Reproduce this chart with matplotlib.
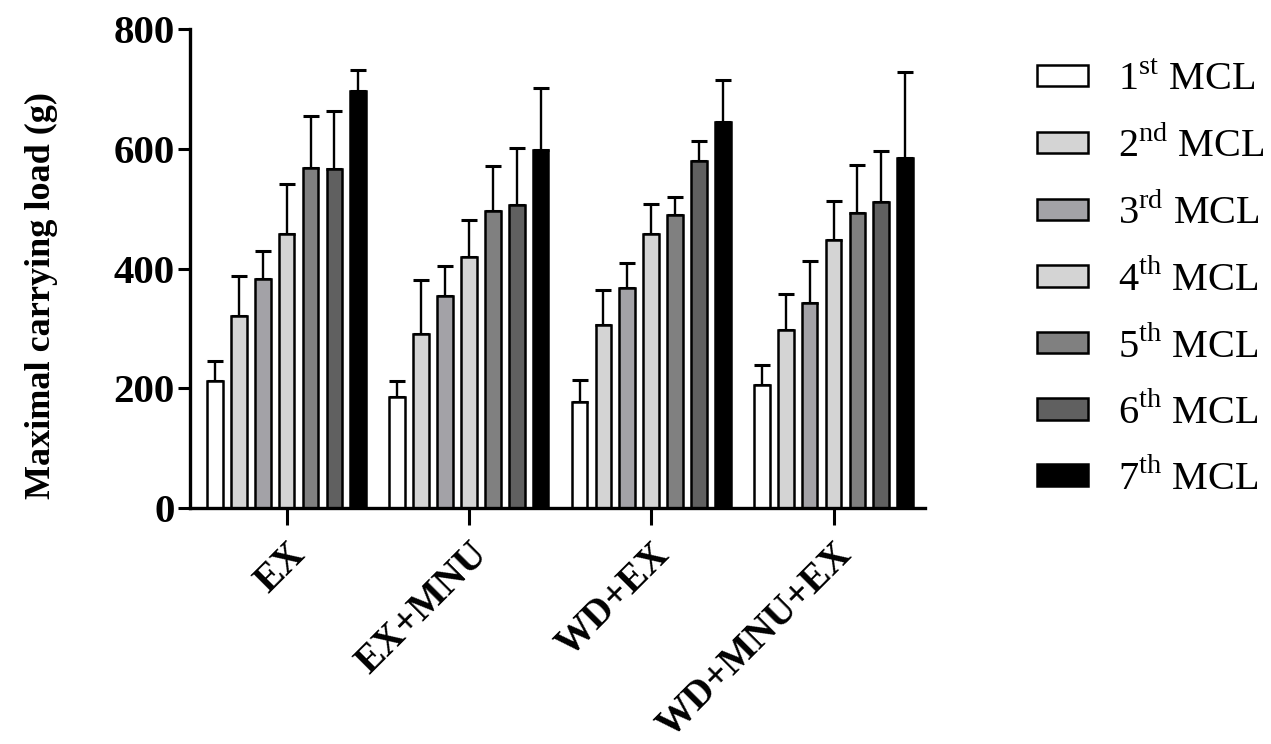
import numpy as np
import matplotlib.pyplot as plt

plt.rcParams['font.family'] = 'Liberation Serif'
plt.rcParams['mathtext.fontset'] = 'custom'
plt.rcParams['mathtext.rm'] = 'Liberation Serif'

groups = ['EX', 'EX+MNU', 'WD+EX', 'WD+MNU+EX']
series = ['1$^{\\mathrm{st}}$ MCL', '2$^{\\mathrm{nd}}$ MCL', '3$^{\\mathrm{rd}}$ MCL', '4$^{\\mathrm{th}}$ MCL',
          '5$^{\\mathrm{th}}$ MCL', '6$^{\\mathrm{th}}$ MCL', '7$^{\\mathrm{th}}$ MCL']
colors = ['#ffffff', '#d4d4d4', '#a3a2a7', '#d4d4d4', '#808080', '#606060', '#000000']

# means per MCL (rows) for each group (columns)
means = np.array([
    [212, 185, 177, 205],
    [320, 291, 306, 298],
    [382, 355, 367, 342],
    [457, 420, 457, 447],
    [568, 496, 490, 492],
    [567, 506, 580, 511],
    [697, 598, 644, 584],
])
# top of error bars
tops = np.array([
    [245, 212, 214, 239],
    [387, 381, 365, 358],
    [430, 405, 409, 412],
    [542, 481, 508, 513],
    [655, 571, 520, 573],
    [663, 601, 613, 597],
    [732, 701, 715, 728],
])
errs = tops - means

fig = plt.figure(figsize=(12.71, 7.44), dpi=100)
ax = fig.add_axes([0.1495, 0.317, 0.578, 0.644])

x = np.arange(len(groups))
step = 0.131
width = 0.086
for i in range(len(series)):
    pos = x + (i - 3) * step
    ax.bar(pos, means[i], width, color=colors[i], edgecolor='black', linewidth=1.8,
           label=series[i], zorder=2)
    ax.errorbar(pos, means[i], yerr=[np.zeros(len(groups)), errs[i]], fmt='none',
                ecolor='black', elinewidth=1.7, capsize=6, capthick=2.2, zorder=1)

ax.set_xlim(-0.53, 3.5)
ax.set_ylim(0, 800)
ax.set_yticks([0, 200, 400, 600, 800])
ax.set_xticks(x)
ax.set_xticklabels(groups, rotation=45, ha='right', rotation_mode='anchor',
                   fontsize=28, fontweight='bold')
for lab in ax.get_yticklabels():
    lab.set_fontsize(29.5)
    lab.set_fontweight('bold')
ax.tick_params(axis='y', length=9, width=2.2, pad=2)
ax.tick_params(axis='x', length=12, width=2.2, pad=8)
for s in ['top', 'right']:
    ax.spines[s].set_visible(False)
for s in ['left', 'bottom']:
    ax.spines[s].set_linewidth(2.4)
ax.set_ylabel('Maximal carrying load (g)', fontsize=26, fontweight='bold')
ax.yaxis.set_label_coords(-0.18, 0.443)

ax.legend(loc='center left', bbox_to_anchor=(0.816, 0.6235), bbox_transform=fig.transFigure,
          frameon=False, fontsize=29, handlelength=1.26, handleheight=0.45,
          handletextpad=0.74, labelspacing=0.68, borderpad=0, borderaxespad=0)

fig.savefig('out.png', dpi=100)
